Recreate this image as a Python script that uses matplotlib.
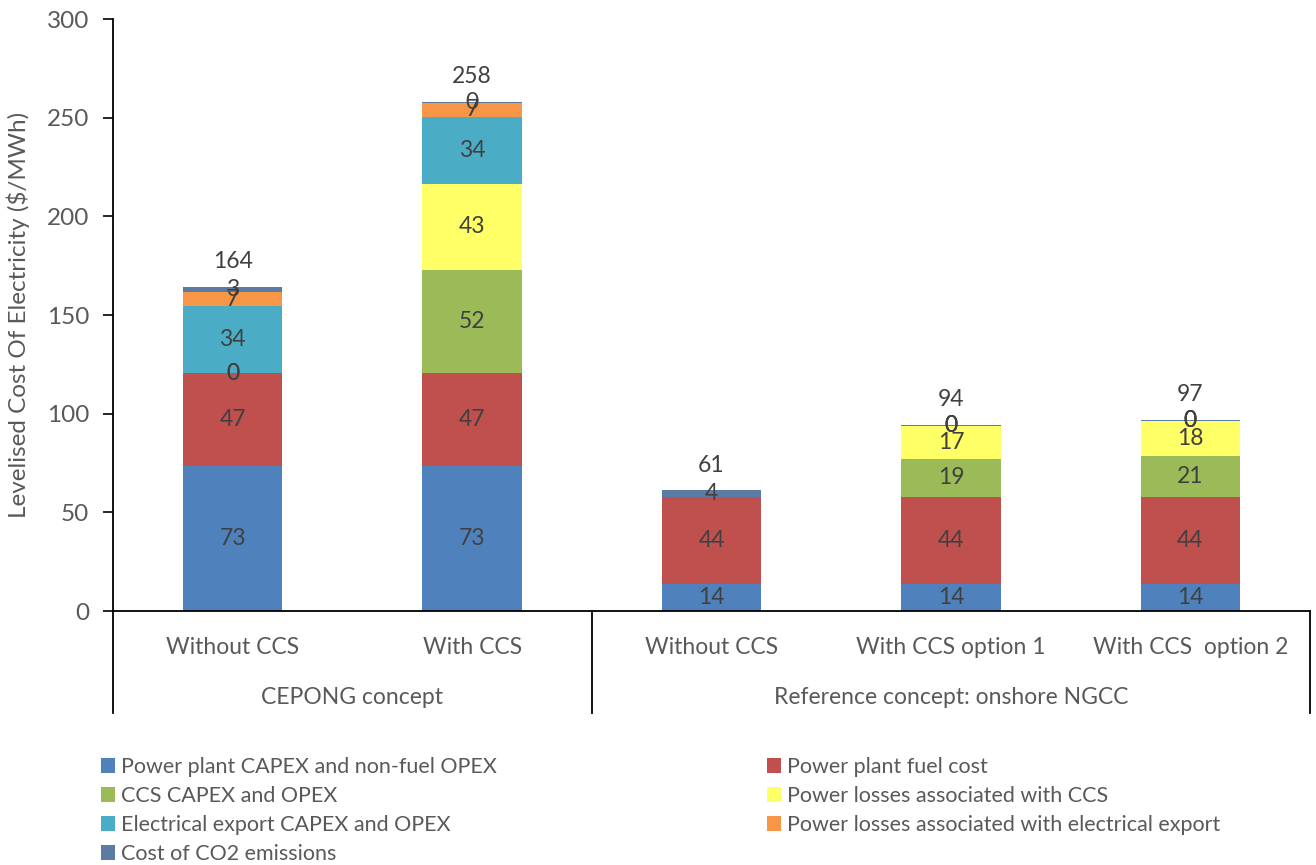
import matplotlib
matplotlib.use("Agg")
import matplotlib.pyplot as plt
from matplotlib.patches import Patch
import numpy as np

plt.rcParams['font.family'] = ['Lato', 'DejaVu Sans']

categories = ["Without CCS", "With CCS", "Without CCS", "With CCS option 1", "With CCS  option 2"]
groups = ["CEPONG concept", "Reference concept: onshore NGCC"]
group_spans = [(0, 1), (2, 4)]

power_plant = [73.4, 73.4, 13.7, 13.7, 13.7]
fuel_cost = [47.2, 47.2, 44.0, 44.0, 44.0]
ccs_capex = [0.0, 52.4, None, 19.4, 20.8]
losses_ccs = [0.0, 43.2, None, 16.9, 17.9]
export_capex = [34.0, 34.0, None, 0.0, 0.0]
losses_export = [7.0, 7.4, None, 0.0, 0.0]
co2_cost = [2.8, 0.4, 3.6, 0.3, 0.4]

series = [
    ("Power plant CAPEX and non-fuel OPEX", power_plant, "#4F81BD"),
    ("Power plant fuel cost", fuel_cost, "#C0504D"),
    ("CCS CAPEX and OPEX", ccs_capex, "#9BBB59"),
    ("Power losses associated with CCS", losses_ccs, "#FFFF66"),
    ("Electrical export CAPEX and OPEX", export_capex, "#4BACC6"),
    ("Power losses associated with electrical export", losses_export, "#F79646"),
    ("Cost of CO2 emissions", co2_cost, "#5B7BA3"),
]

W, H = 1316, 865
fig = plt.figure(figsize=(W / 100, H / 100), dpi=100)
ax = fig.add_axes([113 / W, 1 - 611 / H, (1310 - 113) / W, (611 - 19) / H])

x = np.arange(len(categories))
bottom = np.zeros(len(categories))
bar_w = 0.415
text_col = "#404040"
label_fs = 16.5
for name, vals, col in series:
    v = np.array([0.0 if a is None else a for a in vals])
    ax.bar(x, v, bar_w, bottom=bottom, color=col, edgecolor="none", label=name)
    for i, a in enumerate(vals):
        if a is None:
            continue
        ax.text(x[i], bottom[i] + a / 2, f"{round(a):d}", ha="center", va="center",
                fontsize=label_fs, color=text_col)
    bottom += v

for i, tot in enumerate(bottom):
    ax.annotate(f"{round(tot):d}", (x[i], tot), xytext=(0, 18), textcoords="offset points",
                ha="center", va="center", fontsize=label_fs, color=text_col)

ax.set_xlim(-0.5, len(categories) - 0.5)
ax.set_ylim(0, 300)
ax.set_yticks(np.arange(0, 301, 50))
ax.tick_params(axis="y", direction="out", length=7, width=1.2, pad=10,
               labelsize=17.5, labelcolor="#595959")
ax.set_xticks(x)
ax.set_xticklabels(categories)
ax.tick_params(axis="x", length=0, pad=19, labelsize=16.5, labelcolor="#595959")
for s in ("top", "right"):
    ax.spines[s].set_visible(False)
ax.spines["left"].set_linewidth(1.3)
ax.spines["bottom"].set_linewidth(1.3)

ax.set_ylabel("Levelised Cost Of Electricity ($/MWh)", fontsize=17.5, color="#595959", labelpad=12)

# multi-level category axis: group labels and separators
trans = ax.get_xaxis_transform()
ax_h = 611 - 19
sep_depth = -102 / ax_h
for xs in (-0.5, 1.5, len(categories) - 0.5):
    ax.plot([xs, xs], [0, sep_depth], transform=trans, color="black", lw=1.3, clip_on=False)
for g, (a, b) in zip(groups, group_spans):
    ax.text((a + b) / 2, -87 / ax_h, g, transform=trans, ha="center", va="center",
            fontsize=16.5, color="#595959")

handles = [Patch(facecolor=c, edgecolor="none") for _, _, c in series]
labels = [n for n, _, _ in series]
left_idx = [0, 2, 4, 6]
right_idx = [1, 3, 5]
common = dict(frameon=False, fontsize=15.5, handlelength=0.65, handleheight=0.65,
              handletextpad=0.3, labelspacing=0.42, borderaxespad=0, borderpad=0,
              labelcolor="#595959")
leg1 = fig.legend([handles[i] for i in left_idx], [labels[i] for i in left_idx],
                  loc="upper left", bbox_to_anchor=(101 / W, 1 - 757 / H), **common)
leg2 = fig.legend([handles[i] for i in right_idx], [labels[i] for i in right_idx],
                  loc="upper left", bbox_to_anchor=(767 / W, 1 - 757 / H), **common)

fig.savefig("out.png", dpi=100)
